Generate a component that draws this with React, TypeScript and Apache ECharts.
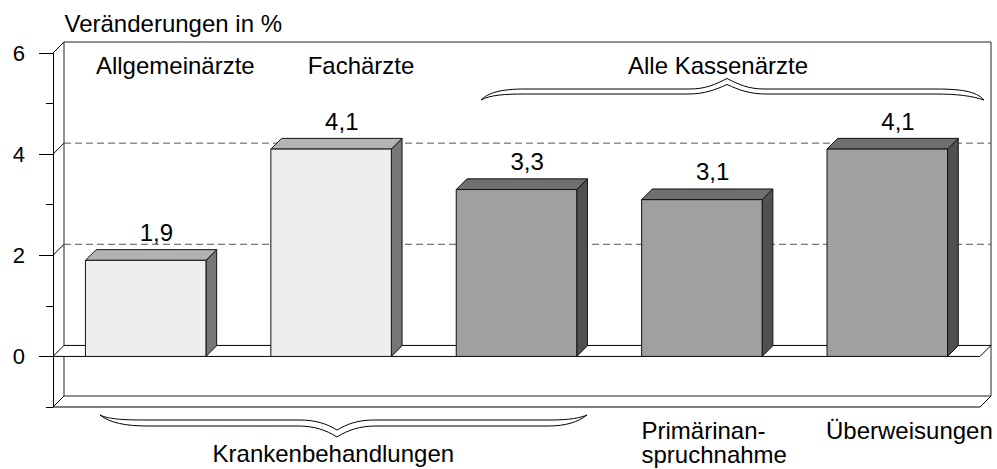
import React, { useEffect, useRef } from "react";
import * as echarts from "echarts";

const categories = ["Allgemeinärzte", "Fachärzte", "Alle Kassenärzte", "Primärinanspruchnahme", "Überweisungen"];
const values = [1.9, 4.1, 3.3, 3.1, 4.1];
const groups = ["light", "light", "dark", "dark", "dark"];
const yMajorTicks = [0, 2, 4, 6];
const yMinorTicks = [-1, 1, 3, 5];
const dashedGridValues = [2, 4];
const diagonalValues = [6, 4, 2];

const FONT = '"Liberation Sans", Arial, Helvetica, sans-serif';
const D_BAR = 10.7;
const D_FRAME = 11;

const palette: Record<string, { front: string; top: string; side: string }> = {
  light: { front: "#eeeeee", top: "#b3b3b3", side: "#777777" },
  dark: { front: "#a0a0a0", top: "#6f6f6f", side: "#505050" },
};

const braceTopPath =
  "M481,100 C488,93 500,89 525,89 L690,89 C706,89 716,84 727,78.5 C738,84 748,89 764,89 L935,89 C960,89 976,91 984,100 C972,96 958,94 935,94 L766,94 C750,94 739,90 727,84.5 C715,90 704,94 688,94 L525,94 C505,94 490,95 481,100 Z";
const braceBottomPath =
  "M100,415 C108,419 122,420 145,420 L300,420 C316,420 327,424 337,430 C347,424 358,420 374,420 L550,420 C570,420 580,418 587,415 C578,422 566,426 548,426 L376,426 C360,426 348,430 337,437 C326,430 314,426 298,426 L148,426 C126,426 110,423 100,415 Z";

function txt(text: string, x: number, y: number, align: string) {
  return {
    type: "text",
    x,
    y,
    z: 10,
    style: {
      text,
      font: `24px ${FONT}`,
      fill: "#000",
      align,
      textAlign: align,
      verticalAlign: "middle",
      textVerticalAlign: "middle",
    },
  };
}

export default function App() {
  const ref = useRef<HTMLDivElement>(null);

  useEffect(() => {
    if (!ref.current) return;
    echarts.graphic.registerShape("braceTop", echarts.graphic.extendPath(braceTopPath, {}));
    echarts.graphic.registerShape("braceBottom", echarts.graphic.extendPath(braceBottomPath, {}));
    const chart = echarts.init(ref.current, undefined, { renderer: "svg" });

    const line = (x1: number, y1: number, x2: number, y2: number, extra: any = {}) => ({
      type: "line",
      shape: { x1, y1, x2, y2 },
      style: { stroke: "#000", lineWidth: 1, ...extra },
    });

    const option: any = {
      animation: false,
      backgroundColor: "#ffffff",
      grid: { left: 53, right: 17, top: 53, bottom: 62, containLabel: false },
      xAxis: {
        type: "category",
        data: categories,
        axisLine: { show: false },
        axisTick: { show: false },
        axisLabel: { show: false },
        splitLine: { show: false },
      },
      yAxis: [
        {
          type: "value",
          min: -1,
          max: 6,
          interval: 1,
          position: "left",
          axisLine: { show: true, lineStyle: { color: "#000", width: 1 } },
          axisTick: { show: true, customValues: yMajorTicks, length: 14, lineStyle: { color: "#000", width: 1 } },
          axisLabel: {
            show: true,
            customValues: yMajorTicks,
            fontSize: 22,
            fontFamily: FONT,
            color: "#000",
            margin: 28,
            padding: [8, 0, 0, 0],
          },
          splitLine: { show: false },
        },
        {
          type: "value",
          min: -1,
          max: 6,
          interval: 1,
          position: "left",
          axisLine: { show: false },
          axisTick: { show: true, customValues: yMinorTicks, length: 7, lineStyle: { color: "#000", width: 1 } },
          axisLabel: { show: false },
          splitLine: { show: false },
        },
      ],
      series: [
        {
          type: "custom",
          z: 1,
          clip: false,
          silent: true,
          data: [[0, 0]],
          renderItem: (params: any, api: any) => {
            const cs = params.coordSys;
            const x0 = cs.x;
            const x1 = cs.x + cs.width;
            const F = D_FRAME;
            const y = (v: number) => api.coord([0, v])[1];
            const y6 = y(6);
            const y0 = y(0);
            const ym1 = y(-1);
            const children: any[] = [];
            children.push({
              type: "rect",
              shape: { x: x0 + F, y: y6 - F, width: x1 - x0, height: ym1 - y6 },
              style: { fill: "#fff", stroke: "#222", lineWidth: 1 },
            });
            dashedGridValues.forEach((v) => {
              children.push(line(x0 + F, y(v) - F, x1 + F, y(v) - F, { stroke: "#555", lineDash: [7, 4] }));
            });
            diagonalValues.forEach((v) => {
              children.push(line(x0, y(v), x0 + F, y(v) - F));
            });
            children.push({
              type: "polygon",
              shape: { points: [[x0, y0], [x0 + F, y0 - F], [x1 + F, y0 - F], [x1, y0]] },
              style: { fill: "#fff", stroke: "#000", lineWidth: 1 },
            });
            children.push(line(x0, ym1, x1, ym1));
            children.push(line(x0, ym1, x0 + F, ym1 - F));
            children.push(line(x1, ym1, x1 + F, ym1 - F));
            return { type: "group", children };
          },
        },
        {
          type: "custom",
          z: 2,
          clip: false,
          data: values.map((v, i) => [i, v]),
          encode: { x: 0, y: 1 },
          renderItem: (params: any, api: any) => {
            const i = api.value(0);
            const v = api.value(1);
            const D = D_BAR;
            const top = api.coord([i, v]);
            const base = api.coord([i, 0]);
            const w = api.size([1, 0])[0] * 0.65;
            const x = top[0] - w / 2;
            const yt = top[1];
            const yb = base[1];
            const c = palette[groups[i]];
            const stroke = { stroke: "#111", lineWidth: 1 };
            return {
              type: "group",
              children: [
                {
                  type: "polygon",
                  shape: { points: [[x + w, yt], [x + w + D, yt - D], [x + w + D, yb - D], [x + w, yb]] },
                  style: { fill: c.side, ...stroke },
                },
                {
                  type: "polygon",
                  shape: { points: [[x, yt], [x + D, yt - D], [x + w + D, yt - D], [x + w, yt]] },
                  style: { fill: c.top, ...stroke },
                },
                {
                  type: "rect",
                  shape: { x, y: yt, width: w, height: yb - yt },
                  style: { fill: c.front, ...stroke },
                },
                {
                  type: "text",
                  x: top[0] + D,
                  y: yt - D - 17.3,
                  style: {
                    text: v.toFixed(1).replace(".", ","),
                    font: `24px ${FONT}`,
                    fill: "#000",
                    align: "center",
                    verticalAlign: "middle",
                  },
                },
              ],
            };
          },
        },
      ],
      graphic: [
        txt("Veränderungen in %", 64.5, 23.4, "left"),
        txt("Allgemeinärzte", 175.3, 65, "center"),
        txt("Fachärzte", 361, 65, "center"),
        txt("Alle Kassenärzte", 718, 65.2, "center"),
        {
          type: "braceTop",
          x: 0,
          y: 0,
          z: 10,
          style: { fill: "#fff", stroke: "#000", lineWidth: 1 },
        },
        {
          type: "braceBottom",
          x: 0,
          y: 0,
          z: 10,
          style: { fill: "#fff", stroke: "#000", lineWidth: 1 },
        },
        txt("Krankenbehandlungen", 333.3, 453.2, "center"),
        txt("Primärinan-", 641.5, 430, "left"),
        txt("spruchnahme", 641.5, 454.7, "left"),
        txt("Überweisungen", 826, 430, "left"),
      ],
    };

    chart.setOption(option);
    return () => {
      chart.dispose();
    };
  }, []);

  return <div ref={ref} style={{ position: "fixed", left: 0, top: 0, width: 997, height: 469 }} />;
}
